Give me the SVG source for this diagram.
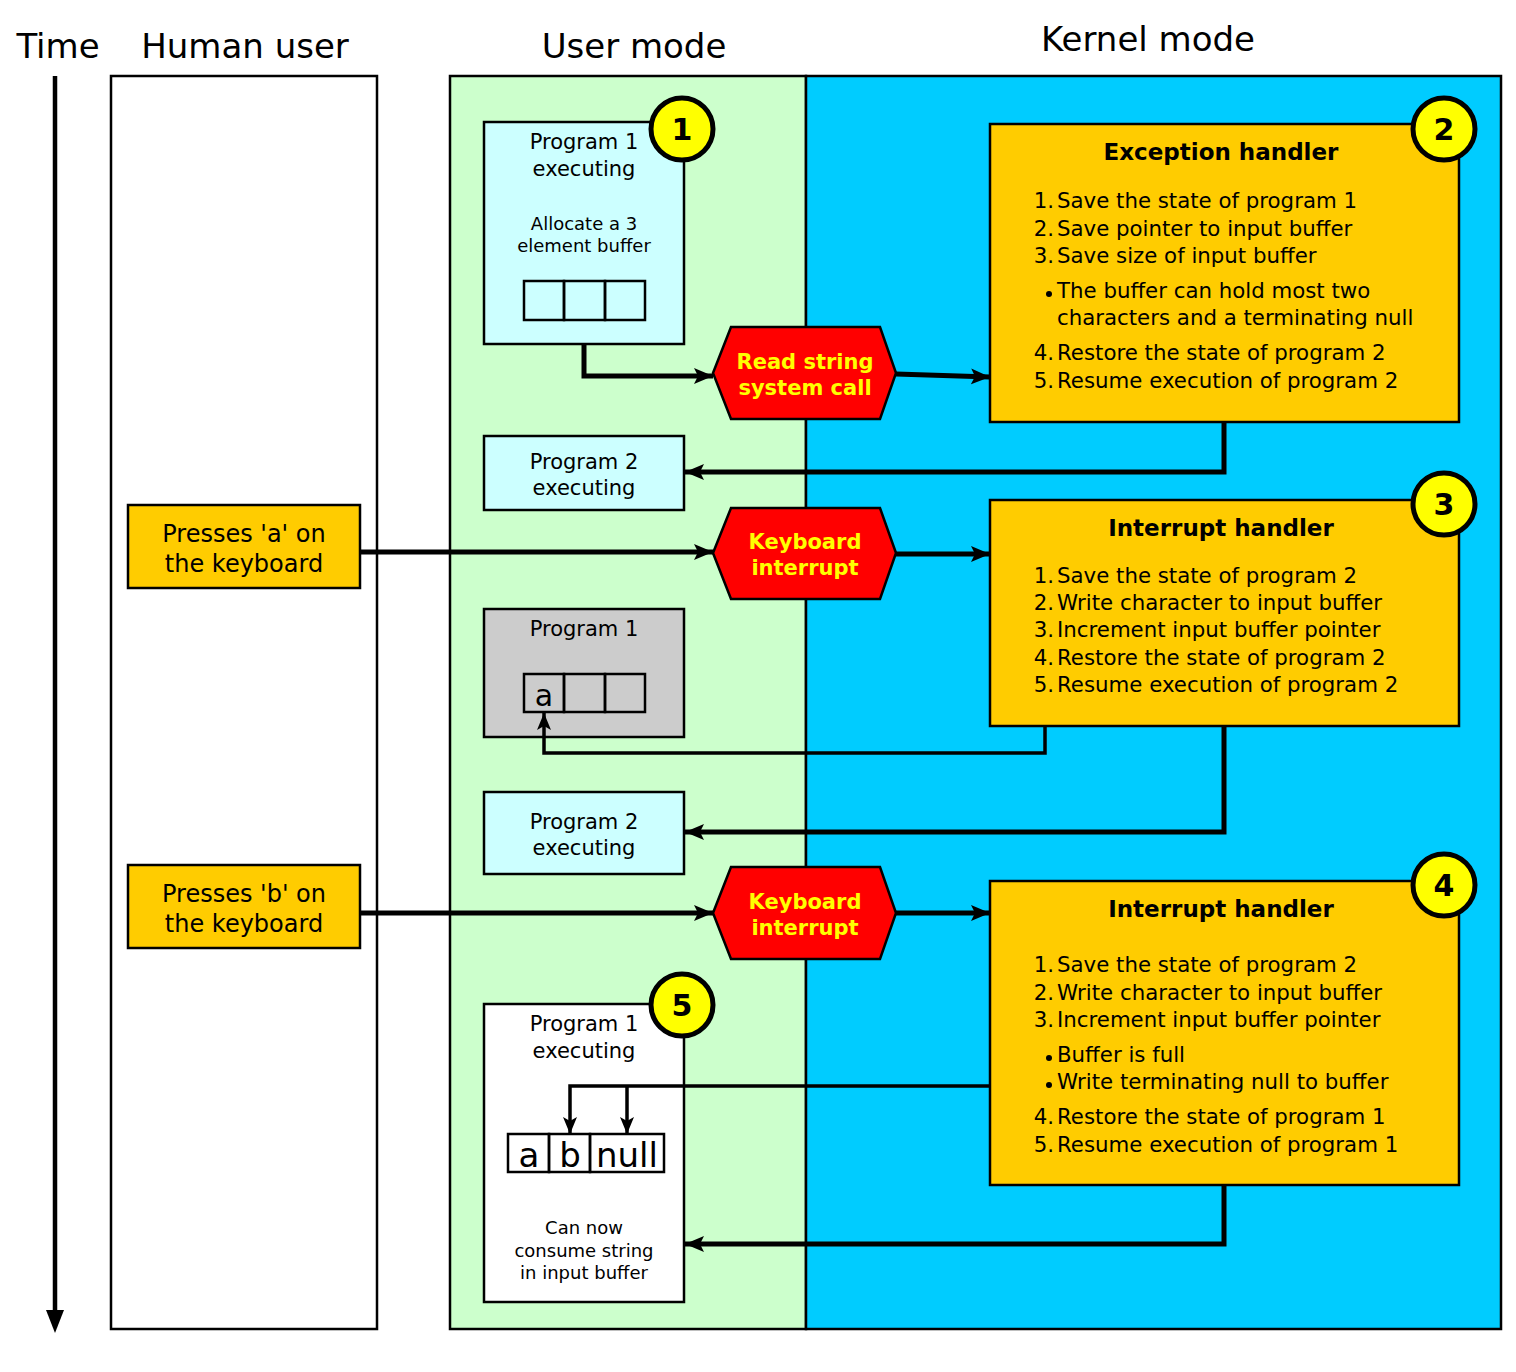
<svg xmlns="http://www.w3.org/2000/svg" width="1516" height="1372" viewBox="0 0 1516 1372">
<style>
text{font-family:"DejaVu Sans","Liberation Sans",sans-serif;fill:#000}
.hdr{font-size:34px;text-anchor:middle}
.box{stroke:#000;stroke-width:2.5}
.pt{font-size:21px;text-anchor:middle}
.sm{font-size:18px;text-anchor:middle}
.hex{fill:#ff0000;stroke:#000;stroke-width:2.5}
.ht{font-size:21px;font-weight:bold;fill:#ffff00;text-anchor:middle}
.hand{fill:#ffcc00;stroke:#000;stroke-width:2.5}
.title{font-size:23px;font-weight:bold;text-anchor:middle}
.it{font-size:21.3px}
.num{font-size:21.3px;text-anchor:end}
.key{fill:#ffcc00;stroke:#000;stroke-width:2.5}
.kt{font-size:24px;text-anchor:middle}
.circ{fill:#ffff00;stroke:#000;stroke-width:5}
.ct{font-size:30px;font-weight:bold;text-anchor:middle}
.cell{fill:none;stroke:#000;stroke-width:2.5}
.big{font-size:34px;text-anchor:middle}
.thick{fill:none;stroke:#000;stroke-width:5;marker-end:url(#ah)}
.thin{fill:none;stroke:#000;stroke-width:3.5;marker-end:url(#ah2)}
</style>
<defs>
<marker id="ah" markerUnits="userSpaceOnUse" markerWidth="22" markerHeight="18" refX="19" refY="9" orient="auto"><path d="M0,1 L19,9 L0,17 L4,9 Z" fill="#000"/></marker>
<marker id="ah2" markerUnits="userSpaceOnUse" markerWidth="20" markerHeight="16" refX="17" refY="8" orient="auto"><path d="M0,1 L17,8 L0,15 L4,8 Z" fill="#000"/></marker>
</defs>
<rect width="1516" height="1372" fill="#fff"/>

<g id="headers">
<text class="hdr" x="58" y="58">Time</text>
<text class="hdr" x="245" y="58">Human user</text>
<text class="hdr" x="634" y="58">User mode</text>
<text class="hdr" x="1148" y="51">Kernel mode</text>
</g>

<g id="time-axis">
<line x1="55" y1="76" x2="55" y2="1314" stroke="#000" stroke-width="4.5"/>
<path d="M46,1310 L55,1333 L64,1310 Z" fill="#000"/>
</g>

<g id="lanes">
<rect id="human-lane" class="box" x="111" y="76" width="266" height="1253" fill="#fff"/>
<rect id="user-lane" class="box" x="450" y="76" width="356" height="1253" fill="#ccffcc"/>
<rect id="kernel-lane" class="box" x="806" y="76" width="695" height="1253" fill="#00ccff"/>
</g>

<g id="prog1-exec">
<rect class="box" x="484" y="122" width="200" height="222" fill="#ccffff"/>
<text class="pt" x="584" y="149">Program 1</text>
<text class="pt" x="584" y="176">executing</text>
<text class="sm" x="584" y="230">Allocate a 3</text>
<text class="sm" x="584" y="252">element buffer</text>
<rect class="cell" x="524" y="281" width="40" height="39"/>
<rect class="cell" x="564" y="281" width="41" height="39"/>
<rect class="cell" x="605" y="281" width="40" height="39"/>
</g>
<g id="badge1"><circle class="circ" cx="682" cy="129" r="31"/><text class="ct" x="682" y="140">1</text></g>

<g id="hex-read">
<polygon class="hex" points="713,373 731,327 880,327 896,373 880,419 731,419"/>
<text class="ht" x="805" y="369">Read string</text>
<text class="ht" x="805" y="395">system call</text>
</g>

<g id="exception-handler">
<rect class="hand" x="990" y="124" width="469" height="298"/>
<text class="title" x="1221" y="160">Exception handler</text>
<text class="num" x="1054" y="208">1.</text><text class="it" x="1057" y="208">Save the state of program 1</text>
<text class="num" x="1054" y="236">2.</text><text class="it" x="1057" y="236">Save pointer to input buffer</text>
<text class="num" x="1054" y="263">3.</text><text class="it" x="1057" y="263">Save size of input buffer</text>
<circle cx="1049" cy="294" r="3" fill="#000"/><text class="it" x="1057" y="298">The buffer can hold most two</text>
<text class="it" x="1057" y="325">characters and a terminating null</text>
<text class="num" x="1054" y="360">4.</text><text class="it" x="1057" y="360">Restore the state of program 2</text>
<text class="num" x="1054" y="388">5.</text><text class="it" x="1057" y="388">Resume execution of program 2</text>
</g>
<g id="badge2"><circle class="circ" cx="1444" cy="129" r="31"/><text class="ct" x="1444" y="140">2</text></g>

<g id="prog2-exec-1">
<rect class="box" x="484" y="436" width="200" height="74" fill="#ccffff"/>
<text class="pt" x="584" y="469">Program 2</text>
<text class="pt" x="584" y="495">executing</text>
</g>

<g id="press-a">
<rect class="key" x="128" y="505" width="232" height="83"/>
<text class="kt" x="244" y="542">Presses 'a' on</text>
<text class="kt" x="244" y="572">the keyboard</text>
</g>

<g id="hex-kbd-1">
<polygon class="hex" points="713,553 731,508 880,508 896,553 880,599 731,599"/>
<text class="ht" x="805" y="549">Keyboard</text>
<text class="ht" x="805" y="575">interrupt</text>
</g>

<g id="interrupt-handler-1">
<rect class="hand" x="990" y="500" width="469" height="226"/>
<text class="title" x="1221" y="536">Interrupt handler</text>
<text class="num" x="1054" y="583">1.</text><text class="it" x="1057" y="583">Save the state of program 2</text>
<text class="num" x="1054" y="610">2.</text><text class="it" x="1057" y="610">Write character to input buffer</text>
<text class="num" x="1054" y="637">3.</text><text class="it" x="1057" y="637">Increment input buffer pointer</text>
<text class="num" x="1054" y="665">4.</text><text class="it" x="1057" y="665">Restore the state of program 2</text>
<text class="num" x="1054" y="692">5.</text><text class="it" x="1057" y="692">Resume execution of program 2</text>
</g>
<g id="badge3"><circle class="circ" cx="1444" cy="504" r="31"/><text class="ct" x="1444" y="515">3</text></g>

<g id="prog1-waiting">
<rect class="box" x="484" y="609" width="200" height="128" fill="#cccccc"/>
<text class="pt" x="584" y="636">Program 1</text>
<rect class="cell" x="524" y="674" width="40" height="38"/>
<rect class="cell" x="564" y="674" width="41" height="38"/>
<rect class="cell" x="605" y="674" width="40" height="38"/>
<text x="544" y="706" style="font-size:30px;text-anchor:middle">a</text>
</g>

<g id="prog2-exec-2">
<rect class="box" x="484" y="792" width="200" height="82" fill="#ccffff"/>
<text class="pt" x="584" y="829">Program 2</text>
<text class="pt" x="584" y="855">executing</text>
</g>

<g id="press-b">
<rect class="key" x="128" y="865" width="232" height="83"/>
<text class="kt" x="244" y="902">Presses 'b' on</text>
<text class="kt" x="244" y="932">the keyboard</text>
</g>

<g id="hex-kbd-2">
<polygon class="hex" points="713,913 731,867 880,867 896,913 880,959 731,959"/>
<text class="ht" x="805" y="909">Keyboard</text>
<text class="ht" x="805" y="935">interrupt</text>
</g>

<g id="interrupt-handler-2">
<rect class="hand" x="990" y="881" width="469" height="304"/>
<text class="title" x="1221" y="917">Interrupt handler</text>
<text class="num" x="1054" y="972">1.</text><text class="it" x="1057" y="972">Save the state of program 2</text>
<text class="num" x="1054" y="1000">2.</text><text class="it" x="1057" y="1000">Write character to input buffer</text>
<text class="num" x="1054" y="1027">3.</text><text class="it" x="1057" y="1027">Increment input buffer pointer</text>
<circle cx="1049" cy="1058" r="3" fill="#000"/><text class="it" x="1057" y="1062">Buffer is full</text>
<circle cx="1049" cy="1085" r="3" fill="#000"/><text class="it" x="1057" y="1089">Write terminating null to buffer</text>
<text class="num" x="1054" y="1124">4.</text><text class="it" x="1057" y="1124">Restore the state of program 1</text>
<text class="num" x="1054" y="1152">5.</text><text class="it" x="1057" y="1152">Resume execution of program 1</text>
</g>
<g id="badge4"><circle class="circ" cx="1444" cy="885" r="31"/><text class="ct" x="1444" y="896">4</text></g>

<g id="prog1-final">
<rect class="box" x="484" y="1004" width="200" height="298" fill="#fff"/>
<text class="pt" x="584" y="1031">Program 1</text>
<text class="pt" x="584" y="1058">executing</text>
<rect class="cell" x="508" y="1134" width="41" height="38"/>
<rect class="cell" x="549" y="1134" width="41" height="38"/>
<rect class="cell" x="590" y="1134" width="74" height="38"/>
<text class="big" x="529" y="1167">a</text>
<text class="big" x="570" y="1167">b</text>
<text class="big" x="627" y="1167">null</text>
<text class="sm" x="584" y="1234">Can now</text>
<text class="sm" x="584" y="1257">consume string</text>
<text class="sm" x="584" y="1279">in input buffer</text>
</g>
<g id="badge5"><circle class="circ" cx="682" cy="1005" r="31"/><text class="ct" x="682" y="1016">5</text></g>

<g id="connectors">
<path class="thick" d="M584,345 V376 H713"/>
<path class="thick" d="M896,374 L990,377"/>
<path class="thick" d="M1224,423 V472 H685"/>
<path class="thick" d="M360,552 H713"/>
<path class="thick" d="M896,554 H990"/>
<path class="thin" d="M1045,727 V753 H544 V713"/>
<path class="thick" d="M1224,727 V832 H685"/>
<path class="thick" d="M360,913 H713"/>
<path class="thick" d="M896,913 H990"/>
<path class="thin" d="M989,1086 H570 V1134"/>
<path class="thin" d="M627,1086 V1134"/>
<path class="thick" d="M1224,1186 V1244 H685"/>
</g>
</svg>
